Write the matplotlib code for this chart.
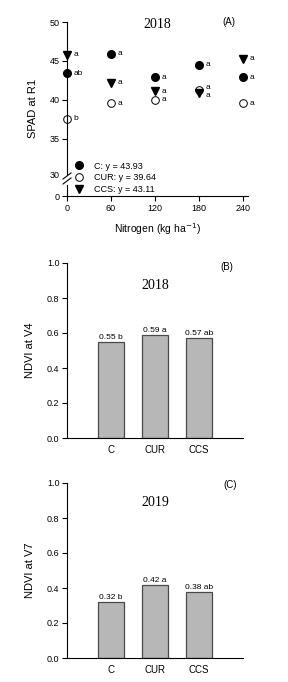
import numpy as np
import matplotlib
matplotlib.use('Agg')
import matplotlib.pyplot as plt

plt.rcParams['font.family'] = ['Liberation Sans', 'DejaVu Sans']

# panel A: SPAD at R1 (2018)
nitrogen = [0, 60, 120, 180, 240]
spad_c = [43.4, 45.9, 42.9, 44.5, 42.9]
spad_cur = [37.6, 39.6, 40.0, 41.3, 39.6]
spad_ccs = [45.8, 42.2, 41.1, 40.9, 45.3]
letters_c = ['ab', 'a', 'a', 'a', 'a']
letters_cur = ['b', 'a', 'a', 'a', 'a']
letters_ccs = ['a', 'a', 'a', 'a', 'a']
legend_c = 'C: y = 43.93'
legend_cur = 'CUR: y = 39.64'
legend_ccs = 'CCS: y = 43.11'

# panels B and C: NDVI
treatments = ['C', 'CUR', 'CCS']
ndvi_v4 = [0.55, 0.59, 0.57]
ndvi_v4_lab = ['0.55 b', '0.59 a', '0.57 ab']
ndvi_v7 = [0.32, 0.42, 0.38]
ndvi_v7_lab = ['0.32 b', '0.42 a', '0.38 ab']

W, H = 288, 682
fig = plt.figure(figsize=(W / 100, H / 100), dpi=100)


def frac(x0, y_top, x1, y_bot):
    # pixel box -> figure fraction
    return [x0 / W, 1 - y_bot / H, (x1 - x0) / W, (y_bot - y_top) / H]


def style(ax):
    for s in ['top', 'right']:
        ax.spines[s].set_visible(False)
    for s in ['left', 'bottom']:
        ax.spines[s].set_linewidth(0.8)
    ax.tick_params(labelsize=6.5, length=3.5, width=0.8, pad=2)


# ---- panel A ----
axA = fig.add_axes(frac(67, 22, 248, 174))
axB0 = fig.add_axes(frac(67, 185, 248, 196))
style(axA)
style(axB0)
axA.spines['bottom'].set_visible(False)
axA.set_xlim(0, 247)
axA.set_ylim(30.5, 50)
axA.set_yticks([35, 40, 45, 50])
axA.set_xticks([])
axB0.set_xlim(0, 247)
axB0.set_ylim(0, 1)
axB0.set_yticks([0])
axB0.set_xticks(nitrogen)

ms = 5.5
axA.plot(nitrogen, spad_c, 'o', color='black', ms=ms, clip_on=False, ls='none')
axA.plot(nitrogen, spad_cur, 'o', mfc='white', mec='black', mew=0.7, ms=ms, clip_on=False, ls='none')
axA.plot(nitrogen, spad_ccs, 'v', color='black', ms=ms, clip_on=False, ls='none')

for i, x in enumerate(nitrogen):
    dy_cur, dy_ccs = 0, 0
    if x == 180:
        dy_cur, dy_ccs = 0.3, -0.3
    axA.text(x + 9, spad_c[i], letters_c[i], fontsize=6, va='center')
    axA.text(x + 9, spad_cur[i] + dy_cur, letters_cur[i], fontsize=6, va='center')
    axA.text(x + 9, spad_ccs[i] + dy_ccs, letters_ccs[i], fontsize=6, va='center')

# "30" tick label at the break
fig.text(60 / W, 1 - 175 / H, '30', fontsize=6.5, ha='right', va='center')
# break marks
for yy in [176, 181]:
    fig.lines.append(plt.Line2D([63 / W, 71 / W], [1 - (yy + 3) / H, 1 - (yy - 3) / H],
                                color='black', lw=0.8, transform=fig.transFigure))

axA.text(0.5, 0.985, '2018', transform=axA.transAxes, ha='center', va='center',
         fontsize=10, family='Liberation Serif')
axA.text(0.895, 1.0, '(A)', transform=axA.transAxes, ha='center', va='center', fontsize=7)
axA.set_ylabel('SPAD at R1', fontsize=8)
axA.yaxis.set_label_coords(-0.16, 0.43)
axB0.set_xlabel('Nitrogen (kg ha$^{-1}$)', fontsize=7.5, labelpad=6)

h1, = axA.plot([], [], 'o', color='black', ms=ms)
h2, = axA.plot([], [], 'o', mfc='white', mec='black', mew=0.7, ms=ms)
h3, = axA.plot([], [], 'v', color='black', ms=ms)
fig.legend([h1, h2, h3], [legend_c, legend_cur, legend_ccs], loc='upper left',
           bbox_to_anchor=(68 / W, 1 - 157 / H), frameon=False, fontsize=6.5,
           handletextpad=0.9, labelspacing=0.3, handlelength=1.5, borderpad=0)


# ---- panels B and C ----
def bar_panel(box, vals, labs, year, year_y, tag, tag_x, tag_y, ylabel):
    ax = fig.add_axes(frac(*box))
    style(ax)
    pos = np.arange(1, len(treatments) + 1)
    ax.bar(pos, vals, width=0.58, color='#b7b7b7', edgecolor='#4a4a4a', linewidth=0.9)
    for p, v, l in zip(pos, vals, labs):
        ax.text(p, v + 0.005, l, ha='center', va='bottom', fontsize=6)
    ax.set_xlim(0, 4)
    ax.set_ylim(0, 1)
    ax.set_yticks(np.arange(0, 1.01, 0.2))
    ax.set_yticklabels(['%.1f' % t for t in np.arange(0, 1.01, 0.2)])
    ax.set_xticks(pos)
    ax.set_xticklabels(treatments, fontsize=7)
    ax.tick_params(axis='x', length=0, pad=5)
    ax.text(0.5, year_y, year, transform=ax.transAxes, ha='center', va='center',
            fontsize=10, family='Liberation Serif')
    ax.text(tag_x, tag_y, tag, transform=ax.transAxes, ha='center', va='center', fontsize=7)
    ax.set_ylabel(ylabel, fontsize=8)
    ax.yaxis.set_label_coords(-0.18, 0.5)
    return ax


bar_panel((67, 263, 243, 438), ndvi_v4, ndvi_v4_lab, '2018', 0.874, '(B)', 0.91, 0.977, 'NDVI at V4')
bar_panel((67, 483, 243, 658), ndvi_v7, ndvi_v7_lab, '2019', 0.891, '(C)', 0.925, 0.989, 'NDVI at V7')

fig.savefig('out.png', dpi=100)
